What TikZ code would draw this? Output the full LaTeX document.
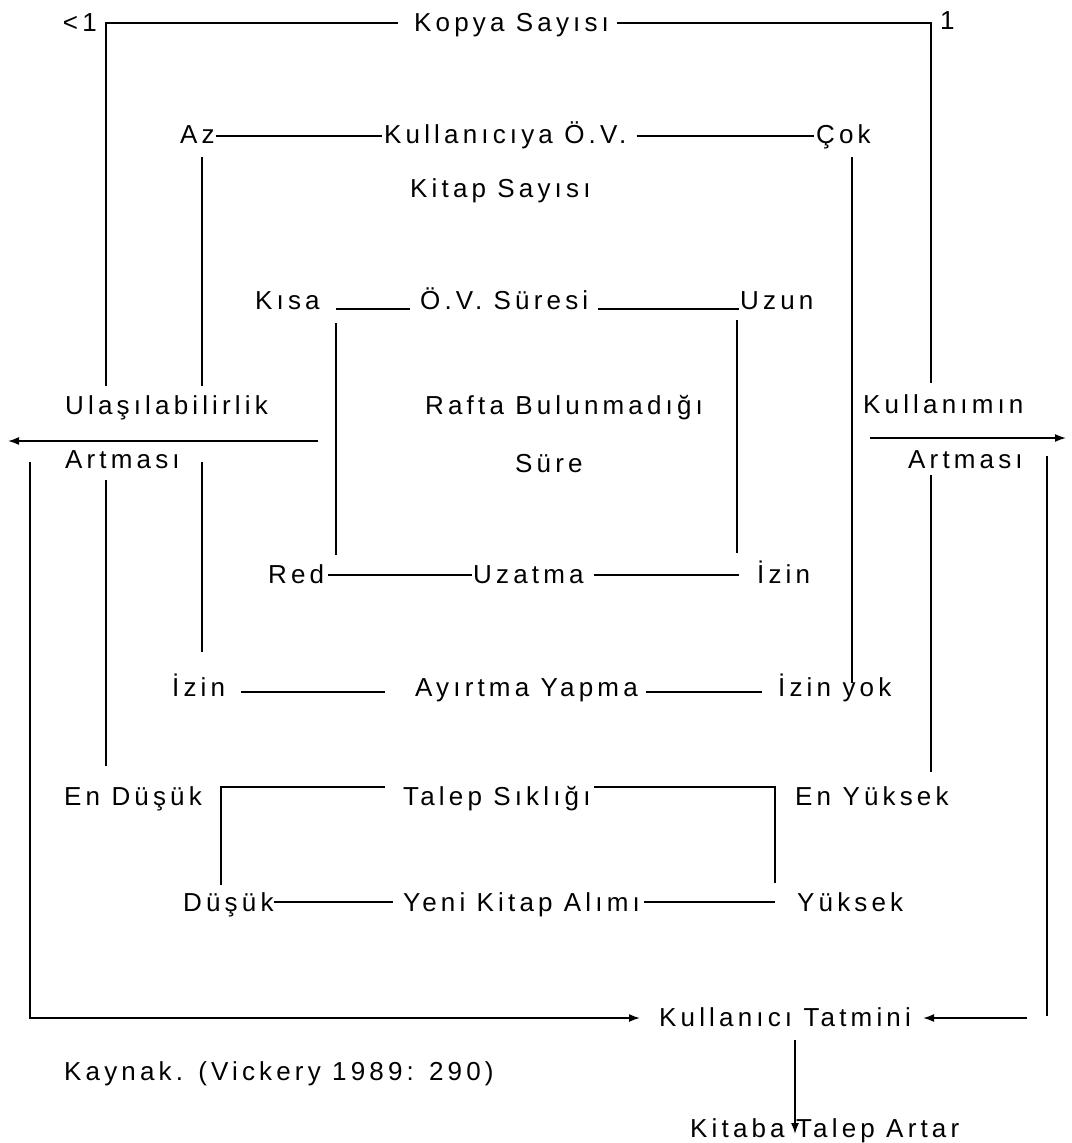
\documentclass[tikz,border=0pt]{standalone}
\usepackage{fontspec}
\setmainfont{Liberation Sans}[LetterSpace=16]
\usetikzlibrary{arrows.meta}
\begin{document}
\begin{tikzpicture}[x=1pt,y=-1pt,
  lbl/.style={inner sep=0pt,anchor=base west,font=\fontsize{26}{31}\selectfont},
  ln/.style={line width=1.6pt},
  arr/.style={ln,-{Latex[length=11pt,width=8pt]}}]
\fill[white] (0,0) rectangle (1071,1143);
\useasboundingbox (0,0) rectangle (1071,1143);
% labels
\node[lbl,anchor=base east] (lt) at (97,31) {<1};
\node[lbl] (kopya) at (414,31) {Kopya Sayısı};
\node[lbl] (one) at (940,29) {1};
\node[lbl] (az) at (180,143) {Az};
\node[lbl] (kov) at (384,143) {Kullanıcıya Ö.V.};
\node[lbl] (cok) at (816,143) {Çok};
\node[lbl] (kitap) at (410,197) {Kitap Sayısı};
\node[lbl] (kisa) at (255,309) {Kısa};
\node[lbl] (ovs) at (420,309) {Ö.V. Süresi};
\node[lbl] (uzun) at (740,309) {Uzun};
\node[lbl] (ulas) at (65,414) {Ulaşılabilirlik};
\node[lbl] (art1) at (65,468) {Artması};
\node[lbl] (rafta) at (425,414) {Rafta Bulunmadığı};
\node[lbl] (sure) at (515,472) {Süre};
\node[lbl] (kull) at (863,413) {Kullanımın};
\node[lbl] (art2) at (908,468) {Artması};
\node[lbl] (red) at (268,583) {Red};
\node[lbl] (uzatma) at (473,583) {Uzatma};
\node[lbl] (izin1) at (757,583) {İzin};
\node[lbl] (izin2) at (172,696) {İzin};
\node[lbl] (ayirt) at (415,696) {Ayırtma Yapma};
\node[lbl] (izinyok) at (778,696) {İzin yok};
\node[lbl] (endus) at (64,805) {En Düşük};
\node[lbl] (talep) at (403,805) {Talep Sıklığı};
\node[lbl] (enyuk) at (795,805) {En Yüksek};
\node[lbl] (dusuk) at (183,911) {Düşük};
\node[lbl] (yeni) at (403,911) {Yeni Kitap Alımı};
\node[lbl] (yuksek) at (797,911) {Yüksek};
\node[lbl] (kt) at (659,1026) {Kullanıcı Tatmini};
\node[lbl] (kaynak) at (64,1080) {Kaynak. (Vickery 1989: 290)};
\node[lbl] (kta) at (690,1137) {Kitaba Talep Artar};
% corner and end coordinates
\coordinate (tl) at (106,23);  \coordinate (tlb) at (106,386);
\coordinate (tr) at (931,23);  \coordinate (trb) at (931,383);
\coordinate (lo1) at (106,480); \coordinate (lo2) at (106,766);
\coordinate (ro1) at (931,475); \coordinate (ro2) at (931,772);
\coordinate (az1) at (202,157); \coordinate (az2) at (202,386);
\coordinate (az3) at (202,462); \coordinate (az4) at (202,652);
\coordinate (ck1) at (852,157); \coordinate (ck2) at (852,683);
\coordinate (ks1) at (336,323); \coordinate (ks2) at (336,555);
\coordinate (uz1) at (737,320); \coordinate (uz2) at (737,553);
\coordinate (la1) at (318,441); \coordinate (la2) at (8,441);
\coordinate (ra1) at (870,438); \coordinate (ra2) at (1066,438);
\coordinate (lp1) at (30,462);  \coordinate (lp2) at (30,1018);
\coordinate (rp1) at (1047,456); \coordinate (rp2) at (1047,1016);
\coordinate (rp3) at (1027,1018);
\coordinate (blc) at (221,787); \coordinate (blb) at (221,885);
\coordinate (brc) at (775,787); \coordinate (brb) at (775,883);
\coordinate (da1) at (795,1040); \coordinate (da2) at (795,1134);
% Kopya Sayisi
\draw[ln,shorten >=16pt] (tlb) -- (tl) -- (kopya.west |- tl);
\draw[ln,shorten <=8pt] (kopya.east |- tr) -- (tr) -- (trb);
\draw[ln] (lo1) -- (lo2);
\draw[ln] (ro1) -- (ro2);
% Kullaniciya O.V. kitap sayisi
\draw[ln,shorten <=1pt,shorten >=2pt] (az.east |- 0,136) -- (kov.west |- 0,136);
\draw[ln,shorten <=10pt,shorten >=2pt] (kov.east |- 0,136) -- (cok.west |- 0,136);
\draw[ln] (az1) -- (az2);
\draw[ln] (az3) -- (az4);
\draw[ln] (ck1) -- (ck2);
% O.V. suresi
\draw[ln,shorten <=16pt,shorten >=10pt] (kisa.east |- 0,309) -- (ovs.west |- 0,309);
\draw[ln,shorten <=10pt,shorten >=1pt] (ovs.east |- 0,309) -- (uzun.west |- 0,309);
\draw[ln] (ks1) -- (ks2);
\draw[ln] (uz1) -- (uz2);
% Uzatma
\draw[ln,shorten <=4pt,shorten >=1pt] (red.east |- 0,575) -- (uzatma.west |- 0,575);
\draw[ln,shorten <=10pt,shorten >=18pt] (uzatma.east |- 0,575) -- (izin1.west |- 0,575);
% Ayirtma
\draw[ln,shorten <=16pt,shorten >=30pt] (izin2.east |- 0,692) -- (ayirt.west |- 0,692);
\draw[ln,shorten <=8pt,shorten >=16pt] (ayirt.east |- 0,692) -- (izinyok.west |- 0,692);
% Talep sikligi / yeni kitap
\draw[ln,shorten >=18pt] (blb) -- (blc) -- (talep.west |- blc);
\draw[ln,shorten <=3pt] (talep.east |- brc) -- (brc) -- (brb);
\draw[ln,shorten >=10pt] (dusuk.east |- 0,902) -- (yeni.west |- 0,902);
\draw[ln,shorten <=4pt,shorten >=22pt] (yeni.east |- 0,902) -- (yuksek.west |- 0,902);
% arrows
\draw[arr] (la1) -- (la2);
\draw[arr] (ra1) -- (ra2);
\draw[arr,shorten >=19pt] (lp1) -- (lp2) -- (kt.west |- lp2);
\draw[ln] (rp1) -- (rp2);
\draw[arr,shorten >=12pt] (rp3) -- (kt.east |- rp3);
\draw[arr] (da1) -- (da2);
\end{tikzpicture}
\end{document}
